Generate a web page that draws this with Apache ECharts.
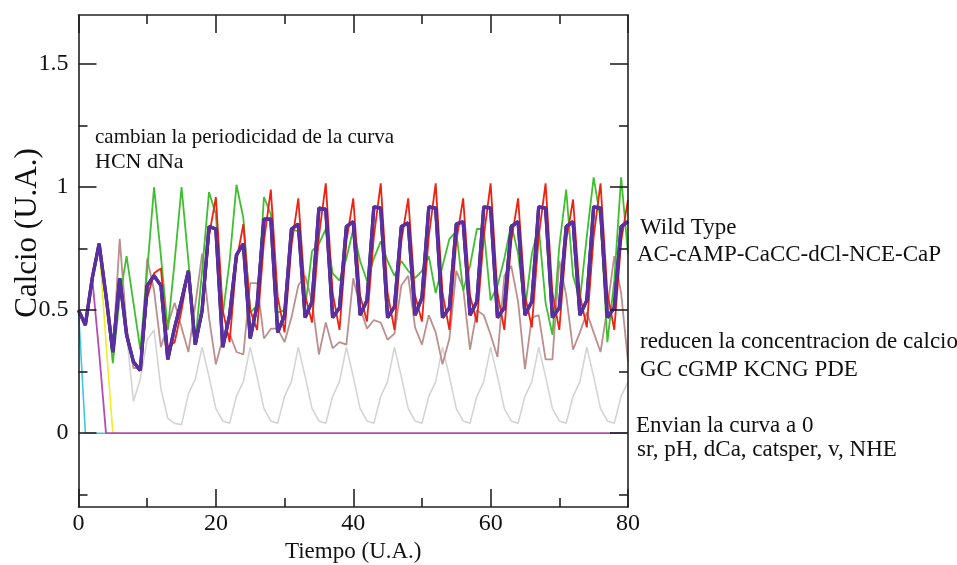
<!DOCTYPE html>
<html>
<head>
<meta charset="utf-8">
<script src="https://cdn.jsdelivr.net/npm/echarts@6/dist/echarts.min.js"></script>
<style>html,body{margin:0;padding:0;background:#fff}#c{width:957px;height:565px}</style>
</head>
<body>
<div id="c"></div>
<script>
const time = [0,1,2,3,4,5,6,7,8,9,10,11,12,13,14,15,16,17,18,19,20,21,22,23,24,25,26,27,28,29,30,31,32,33,34,35,36,37,38,39,40,41,42,43,44,45,46,47,48,49,50,51,52,53,54,55,56,57,58,59,60,61,62,63,64,65,66,67,68,69,70,71,72,73,74,75,76,77,78,79,80];

const wildType = [0.50,0.44,0.63,0.77,0.56,0.33,0.63,0.40,0.29,0.255,
 0.60,0.64,0.60,0.30,0.43,0.54,0.66,0.36,0.50,0.84,
 0.83,0.35,0.48,0.725,0.77,0.385,0.52,0.87,0.87,0.41,
 0.48,0.83,0.85,0.47,0.535,0.915,0.91,0.47,0.51,0.84,
 0.86,0.48,0.54,0.92,0.915,0.47,0.514,0.84,0.855,0.48,
 0.55,0.92,0.915,0.47,0.51,0.85,0.86,0.48,0.535,0.92,
 0.915,0.47,0.51,0.84,0.86,0.48,0.535,0.92,0.915,0.47,
 0.51,0.84,0.86,0.48,0.54,0.92,0.915,0.47,0.51,0.84,0.86];

const redCurve = [0.50,0.44,0.63,0.77,0.56,0.33,0.63,0.40,0.29,0.255,
 0.55,0.65,0.67,0.35,0.37,0.50,0.66,0.38,0.48,0.80,
 0.96,0.50,0.37,0.70,0.85,0.50,0.42,0.78,0.99,0.555,
 0.41,0.76,0.955,0.56,0.45,0.80,1.016,0.57,0.42,0.78,
 0.955,0.56,0.454,0.80,1.016,0.57,0.42,0.78,0.955,0.56,
 0.454,0.80,1.016,0.57,0.42,0.78,0.955,0.56,0.45,0.80,
 1.016,0.57,0.42,0.78,0.955,0.56,0.43,0.80,1.016,0.57,
 0.42,0.78,0.95,0.56,0.43,0.80,1.016,0.57,0.42,0.78,0.95];

const greenCurve = [0.50,0.44,0.63,0.77,0.56,0.285,0.55,0.72,0.53,0.34,
 0.66,1.00,0.72,0.42,0.70,1.00,0.70,0.37,0.66,0.98,
 0.89,0.48,0.70,1.01,0.875,0.49,0.52,0.96,0.89,0.49,
 0.50,0.83,0.82,0.51,0.74,0.77,0.83,0.65,0.62,0.71,
 0.83,0.70,0.62,0.71,0.78,0.70,0.64,0.70,0.66,0.63,
 0.66,0.72,0.57,0.68,0.79,0.82,0.58,0.68,0.83,0.83,
 0.54,0.60,0.71,0.85,0.73,0.50,0.73,0.84,0.53,0.40,
 0.76,0.99,0.64,0.54,0.80,1.04,0.87,0.37,0.62,1.04,0.73];

const brownCurve = [0.50,0.44,0.63,0.77,0.56,0.33,0.79,0.43,0.265,0.265,
 0.71,0.58,0.35,0.44,0.53,0.43,0.33,0.52,0.73,0.47,
 0.28,0.385,0.405,0.33,0.32,0.61,0.61,0.385,0.425,0.425,
 0.37,0.47,0.60,0.64,0.535,0.32,0.45,0.345,0.37,0.36,
 0.63,0.51,0.425,0.46,0.45,0.38,0.405,0.60,0.64,0.43,
 0.36,0.48,0.41,0.28,0.385,0.66,0.59,0.34,0.50,0.48,
 0.40,0.31,0.64,0.68,0.535,0.26,0.47,0.48,0.30,0.30,
 0.70,0.56,0.34,0.41,0.49,0.41,0.33,0.51,0.72,0.57,0.29];

const grayCurve = [0.50,0.44,0.63,0.77,0.56,0.33,0.63,0.40,0.13,0.22,
 0.38,0.42,0.18,0.06,0.04,0.035,0.16,0.22,0.35,0.23,
 0.10,0.05,0.04,0.15,0.21,0.35,0.23,0.10,0.05,0.04,
 0.15,0.21,0.35,0.23,0.10,0.05,0.04,0.15,0.21,0.35,
 0.23,0.10,0.05,0.04,0.15,0.21,0.35,0.23,0.10,0.05,
 0.04,0.15,0.21,0.35,0.23,0.10,0.05,0.04,0.15,0.21,
 0.35,0.23,0.10,0.05,0.04,0.15,0.21,0.35,0.23,0.10,
 0.05,0.04,0.15,0.21,0.35,0.23,0.10,0.05,0.04,0.15,0.21];

const cyanCurve = [0.50,0.00,0.00,0.00,0.00];
const yellowCurve = [0.50,0.44,0.63,0.77,0.37,0.00,0.00];
const magentaCurve = [0.50,0.44,0.63,0.33,0,0,0,0,0,0,
 0,0,0,0,0,0,0,0,0,0, 0,0,0,0,0,0,0,0,0,0,
 0,0,0,0,0,0,0,0,0,0, 0,0,0,0,0,0,0,0,0,0,
 0,0,0,0,0,0,0,0,0,0, 0,0,0,0,0,0,0,0,0,0,
 0,0,0,0,0,0,0,0,0,0,0];

const yMajor = [0, 0.5, 1, 1.5];
const yMinor = [-0.25, 0.25, 0.75, 1.25];

const notes = [
  {text: 'cambian la periodicidad de la curva', x: 95, y: 137, size: 21},
  {text: 'HCN dNa', x: 95, y: 162, size: 22},
  {text: 'Wild Type', x: 640, y: 228, size: 23},
  {text: 'AC-cAMP-CaCC-dCl-NCE-CaP', x: 637, y: 255, size: 23},
  {text: 'reducen la concentracion de calcio', x: 640, y: 342, size: 23},
  {text: 'GC cGMP KCNG PDE', x: 640, y: 370, size: 23},
  {text: 'Envian la curva a 0', x: 636, y: 426, size: 23},
  {text: 'sr, pH, dCa, catsper, v, NHE', x: 637, y: 450, size: 23}
];

function pairs(arr){ return arr.map((v,i)=>[time[i], v]); }

const FONT = '"Liberation Serif", "DejaVu Serif", serif';
const AX = '#222';

function mkSeries(name, arr, color, width, z){
  return {name, type:'line', data: pairs(arr), symbol:'none', z: z,
    lineStyle:{color, width}, itemStyle:{color}, animation:false, silent:true};
}

const chart = echarts.init(document.getElementById('c'), null, {renderer:'canvas'});
const axLine = {show:true, onZero:false, lineStyle:{color:AX, width:1.6}};
const noLine = {show:false, onZero:false};
const graphics = notes.map(n => ({type:'text', x:n.x, y:n.y, z:20,
    style:{text:n.text, fontFamily:FONT, fontSize:n.size, fill:'#111', verticalAlign:'middle', align:'left'}}));
graphics.push({type:'text', x:28, y:233, rotation:Math.PI/2, z:20,
    style:{text:'Calcio (U.A.)', fontFamily:FONT, fontSize:31, fill:'#111', verticalAlign:'middle', align:'center'}});

chart.setOption({
  animation:false,
  backgroundColor:'#fff',
  grid:{left:78.5, right:329, top:15, bottom:58, containLabel:false, outerBoundsMode:'none'},
  xAxis:[
    {type:'value', min:0, max:80, interval:20, position:'bottom', z:10,
     axisLine:axLine,
     axisTick:{show:true, inside:true, length:18, lineStyle:{color:AX, width:1.6}},
     minorTick:{show:true, splitNumber:2, length:9, lineStyle:{color:AX, width:1.6}},
     splitLine:{show:false}, minorSplitLine:{show:false},
     axisLabel:{fontFamily:FONT, fontSize:24, color:'#111', margin:5},
     name:'Tiempo (U.A.)', nameLocation:'middle', nameGap:32,
     nameTextStyle:{fontFamily:FONT, fontSize:23, color:'#111'}},
    {type:'value', min:0, max:80, interval:20, position:'top', z:10,
     axisLine:axLine,
     axisTick:{show:true, inside:true, length:18, lineStyle:{color:AX, width:1.6}},
     minorTick:{show:true, splitNumber:2, length:9, lineStyle:{color:AX, width:1.6}},
     splitLine:{show:false}, minorSplitLine:{show:false},
     axisLabel:{show:false}}
  ],
  yAxis:[
    {type:'value', min:-0.3, max:1.7, position:'left', z:10,
     axisLine:axLine,
     axisTick:{show:true, inside:true, length:18, customValues:yMajor, lineStyle:{color:AX, width:1.6}},
     axisLabel:{customValues:yMajor, fontFamily:FONT, fontSize:24, color:'#111', margin:10, padding:[8,0,0,0]},
     splitLine:{show:false}},
    {type:'value', min:-0.3, max:1.7, position:'left', z:10,
     axisLine:noLine,
     axisTick:{show:true, inside:true, length:9, customValues:yMinor, lineStyle:{color:AX, width:1.6}},
     axisLabel:{show:false}, splitLine:{show:false}},
    {type:'value', min:-0.3, max:1.7, position:'right', z:10,
     axisLine:axLine,
     axisTick:{show:true, inside:true, length:18, customValues:yMajor, lineStyle:{color:AX, width:1.6}},
     axisLabel:{show:false}, splitLine:{show:false}},
    {type:'value', min:-0.3, max:1.7, position:'right', z:10,
     axisLine:noLine,
     axisTick:{show:true, inside:true, length:9, customValues:yMinor, lineStyle:{color:AX, width:1.6}},
     axisLabel:{show:false}, splitLine:{show:false}}
  ],
  series:[
    mkSeries('GC cGMP', grayCurve, '#d4d4d4', 1.6, 2),
    mkSeries('KCNG PDE', brownCurve, '#bc8f8f', 1.8, 3),
    mkSeries('dNa', greenCurve, '#3fbf2f', 1.8, 4),
    mkSeries('HCN', redCurve, '#ee2211', 1.8, 5),
    mkSeries('sr', cyanCurve, '#3cc8e0', 1.6, 6),
    mkSeries('pH', yellowCurve, '#eeee22', 1.6, 6),
    mkSeries('dCa', magentaCurve, '#b84ab8', 1.8, 7),
    mkSeries('AC-cAMP-CaCC-dCl-NCE-CaP', wildType, '#111111', 3.2, 8),
    mkSeries('Wild Type', wildType, '#5b2fa3', 3.4, 9)
  ],
  graphic: graphics
});
</script>
</body>
</html>
